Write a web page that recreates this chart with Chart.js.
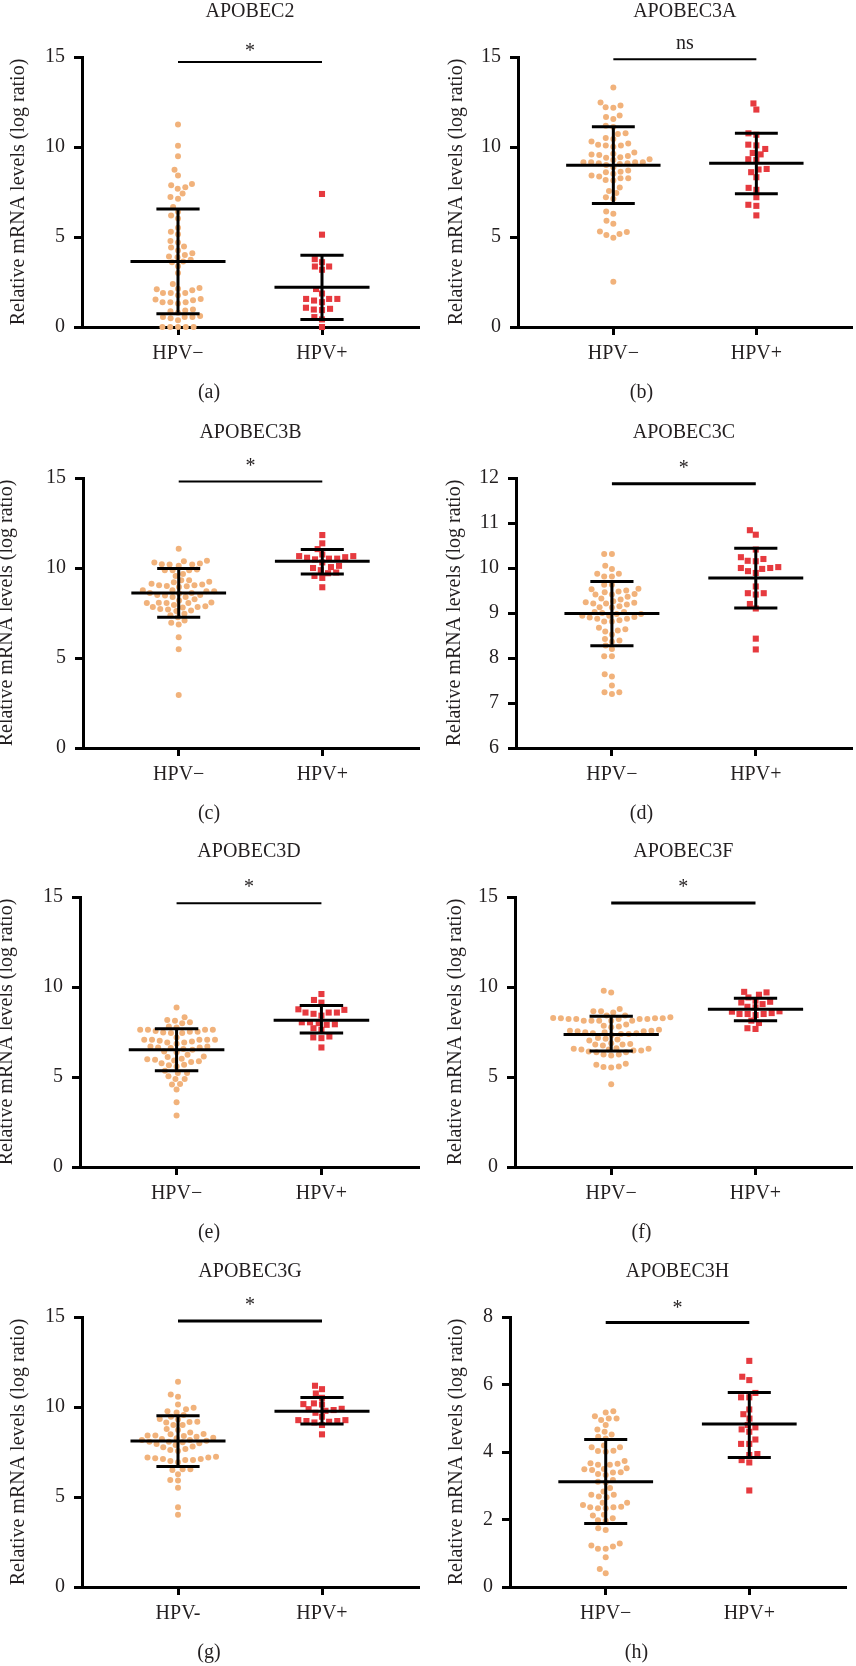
<!DOCTYPE html>
<html><head><meta charset="utf-8">
<script src="https://cdn.jsdelivr.net/npm/chart.js@4.4.1/dist/chart.umd.min.js"></script>
<style>
html,body{margin:0;padding:0;background:#fff;overflow:hidden;width:856px;height:1666px;}
#wrap{position:relative;width:856px;height:1666px;overflow:hidden;}
canvas{position:absolute;}
</style></head><body><div id="wrap"></div>
<script>
// ---------------- DATA ----------------
const panelTitles = ['APOBEC2','APOBEC3A','APOBEC3B','APOBEC3C','APOBEC3D','APOBEC3F','APOBEC3G','APOBEC3H'];
const panelLetters = ['(a)','(b)','(c)','(d)','(e)','(f)','(g)','(h)'];
const groupLabels = [
  ['HPV\u2212','HPV+'],['HPV\u2212','HPV+'],['HPV\u2212','HPV+'],['HPV\u2212','HPV+'],
  ['HPV\u2212','HPV+'],['HPV\u2212','HPV+'],['HPV-','HPV+'],['HPV\u2212','HPV+']
];
const sigLabels = ['*','ns','*','*','*','*','*','*'];
const sigLevels = [14.72, 14.87, 14.81, 11.87, 14.65, 14.67, 14.78, 7.84];
const yMins  = [0, 0, 0, 6, 0, 0, 0, 0];
const yMaxs  = [15, 15, 15, 12, 15, 15, 15, 8];
const ySteps = [5, 5, 5, 1, 5, 5, 5, 2];
const yAxisTitle = 'Relative mRNA levels (log ratio)';

// mean +/- SD: [low, mean, high]
const negStats = [[0.74,3.64,6.56],[6.86,8.99,11.13],[7.27,8.61,9.97],[8.27,8.99,9.70],[5.35,6.51,7.68],[6.44,7.36,8.37],[6.69,8.11,9.51],[1.88,3.12,4.37]];
const posStats = [[0.42,2.21,3.99],[7.40,9.10,10.76],[9.67,10.38,11.03],[9.11,9.78,10.44],[7.44,8.15,8.97],[8.13,8.76,9.38],[9.05,9.77,10.53],[3.84,4.83,5.76]];

const apobec2Neg = [11.25,10.07,9.49,8.73,8.42,7.94,7.87,7.76,7.68,7.41,7.22,7.13,6.67,6.40,6.19,6.03,5.51,5.29,5.15,4.78,4.69,4.47,4.41,4.25,4.10,4.00,3.92,3.88,3.73,3.64,3.60,3.38,3.00,2.39,2.17,2.13,2.10,2.04,1.89,1.89,1.89,1.76,1.56,1.53,1.49,1.38,1.38,1.38,1.31,0.97,0.92,0.88,0.79,0.61,0.55,0.55,0.55,0.48,0.37,0,0,0,0,0];
const apobec2Pos = [7.39,5.13,3.77,3.60,3.36,3.36,3.18,2.11,1.86,1.56,1.56,1.56,1.47,1.38,1.07,1.01,0.97,0.94,0.55,0.42,0];
const apobec3ANeg = [13.30,12.47,12.31,12.21,12.18,11.75,11.66,11.55,11.18,11.11,10.76,10.72,10.50,10.44,10.31,10.20,10.13,10.09,10.09,10.02,9.69,9.63,9.58,9.56,9.50,9.43,9.40,9.32,9.28,9.15,9.15,9.15,9.15,9.10,9.10,9.06,9.00,8.87,8.69,8.63,8.60,8.51,8.41,8.36,8.27,8.27,8.17,8.14,7.75,7.55,7.44,7.21,7.12,6.42,6.29,5.90,5.74,5.30,5.28,5.17,5.11,4.96,2.51];
const apobec3APos = [12.42,12.08,10.76,10.68,10.13,10.09,9.89,9.67,9.59,9.32,9.28,8.78,8.75,8.60,8.32,7.73,7.62,7.21,6.79,6.73,6.20];
const apobec3BNeg = [11.07,10.40,10.38,10.31,10.25,10.21,10.20,10.20,10.12,9.92,9.88,9.88,9.88,9.67,9.56,9.32,9.32,9.23,9.21,9.13,9.08,9.04,9.04,9.00,8.99,8.95,8.76,8.76,8.71,8.71,8.61,8.61,8.58,8.50,8.50,8.47,8.39,8.39,8.26,8.20,8.09,8.07,8.05,8.05,8.05,7.94,7.87,7.83,7.83,7.81,7.72,7.70,7.64,7.61,7.46,7.37,7.27,7.09,6.96,6.86,6.15,5.49,2.95];
const apobec3BPos = [11.83,11.37,11.05,10.75,10.66,10.66,10.60,10.57,10.52,10.52,10.48,10.31,10.12,10.05,10.00,9.88,9.75,9.71,9.56,9.45,8.93];
const apobec3CNeg = [10.31,10.31,10.05,9.98,9.87,9.87,9.81,9.81,9.63,9.63,9.54,9.53,9.50,9.48,9.46,9.42,9.41,9.41,9.36,9.32,9.30,9.26,9.24,9.23,9.21,9.21,9.19,9.15,9.13,9.12,9.02,9.02,9.00,8.98,8.98,8.94,8.94,8.91,8.90,8.87,8.87,8.84,8.81,8.81,8.67,8.64,8.61,8.59,8.52,8.42,8.39,8.36,8.28,8.20,8.04,8.04,7.64,7.59,7.39,7.24,7.24,7.20];
const apobec3CPos = [10.84,10.74,10.41,10.24,10.20,10.16,10.15,10.02,10.00,10.00,9.98,9.93,9.89,9.59,9.44,9.44,9.41,9.20,9.10,8.43,8.19];
const apobec3DNeg = [8.86,8.32,8.17,8.12,8.04,7.99,7.80,7.75,7.62,7.56,7.62,7.62,7.51,7.44,7.62,7.44,7.47,7.51,7.20,7.07,7.07,7.01,6.92,6.85,7.07,6.92,6.97,7.07,7.07,6.70,6.64,6.61,6.51,6.38,6.42,6.55,6.64,6.70,6.14,6.01,5.96,5.87,5.92,5.98,6.11,6.24,5.68,5.59,5.83,5.65,5.77,5.22,5.22,5.35,4.89,4.89,5.04,4.61,4.58,4.30,3.60,2.86];
const apobec3DPos = [9.61,9.28,9.13,8.73,8.58,8.51,8.41,8.58,8.58,8.76,8.04,7.93,7.90,7.99,8.04,7.71,7.62,7.25,7.20,7.16,6.64];
const apobec3FNeg = [9.79,9.70,8.78,8.65,8.65,8.59,8.41,8.32,8.26,8.26,8.22,8.22,8.26,8.28,8.41,8.22,8.13,8.13,8.13,8.13,8.13,8.22,8.22,7.91,7.80,7.76,7.85,7.63,7.57,7.54,7.49,7.43,7.39,7.34,7.39,7.43,7.49,7.54,7.57,7.12,7.08,7.03,7.17,6.88,6.81,6.75,6.81,6.84,6.57,6.53,6.47,6.42,6.38,6.38,6.47,6.53,6.57,6.60,6.25,6.20,6.25,5.68,5.55,5.53,5.59,5.74,4.60];
const apobec3FPos = [9.73,9.70,9.57,9.42,9.24,9.14,9.18,9.05,8.87,8.90,8.63,8.50,8.50,8.44,8.50,8.55,8.65,8.13,8.00,7.67,7.71];
const apobec3GNeg = [11.40,10.70,10.57,10.14,9.96,9.88,9.70,9.77,9.46,9.33,9.18,9.14,9.16,9.31,9.55,9.00,9.00,8.72,8.59,8.78,8.48,8.41,8.41,8.35,8.26,8.17,8.07,8.07,8.17,8.22,8.29,8.39,8.50,8.12,8.04,7.94,7.76,7.61,7.56,7.67,7.80,7.89,7.98,7.24,7.20,7.11,7.06,7.00,6.93,7.06,7.11,7.15,7.20,6.54,6.50,6.54,6.26,5.91,5.95,5.52,4.43,4.01];
const apobec3GPos = [11.18,10.99,10.75,10.51,10.16,10.20,10.14,9.88,9.83,9.79,9.68,9.46,9.90,9.27,9.22,9.14,9.18,9.22,9.27,9.00,8.48];
const apobec3HNeg = [5.21,5.17,5.06,4.99,4.99,4.95,4.80,4.67,4.60,4.52,4.45,4.40,4.19,4.14,4.03,4.01,4.04,4.14,3.73,3.67,3.62,3.62,3.65,3.52,3.49,3.47,3.50,3.40,3.35,3.32,3.39,3.17,3.10,3.12,2.93,2.83,2.73,2.66,2.68,2.73,2.50,2.43,2.36,2.33,2.33,2.36,2.38,2.50,2.14,2.04,1.98,1.96,2.12,1.74,1.69,1.29,1.20,1.13,1.13,1.23,0.88,0.53,0.41];
const apobec3HPos = [6.70,6.13,6.23,5.75,5.62,5.62,5.26,5.12,4.99,4.73,4.80,4.67,4.60,4.37,4.24,4.24,3.94,3.91,3.76,3.69,2.86];

const negSeries = [apobec2Neg, apobec3ANeg, apobec3BNeg, apobec3CNeg, apobec3DNeg, apobec3FNeg, apobec3GNeg, apobec3HNeg];
const posSeries = [apobec2Pos, apobec3APos, apobec3BPos, apobec3CPos, apobec3DPos, apobec3FPos, apobec3GPos, apobec3HPos];

// ---------------- LAYOUT / STYLE ----------------
const FONT = "'Liberation Serif','Times New Roman',serif";
const TXT = '#231f20';
const CW = 428, CH = 420;
const rowTops = [0, 421, 840, 1260];
const areaLeft  = [82, 90, 83, 88, 80, 87, 82, 82];
const areaRight = [418, 427, 418, 427, 418, 427, 418, 417];
const yTitleCenter = [19, 29, 7, 27, 7, 28, 19, 29];
const sigLineWidth = [2, 2, 2, 3, 2, 3, 3, 3];
const sigGap = [15, 15, 19, 20, 20, 20, 20, 18];
const X_MIN = 1/3, X_MAX = 8/3;
const AREA_TOP = 57, AREA_BOTTOM = 327;
const NEG_COLOR = '#F1B27B', POS_COLOR = '#E63A3F';
const SWARM_K = 1.25; // vertical weighting of collision distance

function swarm(values, pxPerX, pxPerY, diam) {
  const order = values.map((v, i) => i).sort((a, b) => values[a] - values[b]);
  const placed = [];
  const offs = new Array(values.length).fill(0);
  for (const i of order) {
    const yp = values[i] * pxPerY;
    const iv = [];
    for (const q of placed) {
      const dy = Math.abs(q.y - yp) * SWARM_K;
      if (dy < diam) { const dx = Math.sqrt(diam * diam - dy * dy); iv.push([q.x - dx, q.x + dx]); }
    }
    const cands = [0];
    iv.forEach(([a, b]) => cands.push(a, b));
    cands.sort((a, b) => Math.abs(a) - Math.abs(b));
    let xp = 0;
    for (const c of cands) {
      if (iv.every(([a, b]) => c <= a + 1e-6 || c >= b - 1e-6)) { xp = c; break; }
    }
    placed.push({x: xp, y: yp});
    offs[i] = xp / pxPerX;
  }
  return offs;
}

function seg(x1, y1, x2, y2, w) {
  return {type: 'line', data: [{x: x1, y: y1}, {x: x2, y: y2}], borderColor: '#000', borderWidth: w,
          pointRadius: 0, showLine: true, fill: false, order: 0, clip: false, tension: 0};
}
function errorBars(c, st) {
  const [lo, m, hi] = st;
  return [seg(c - 0.33, m, c + 0.33, m, 3), seg(c, lo, c, hi, 3),
          seg(c - 0.15, hi, c + 0.15, hi, 3), seg(c - 0.15, lo, c + 0.15, lo, 3)];
}

const sigPlugin = {
  id: 'sig',
  afterDatasetsDraw(chart, args, opts) {
    const {ctx, scales: {x, y}} = chart;
    const px = (x.getPixelForValue(1) + x.getPixelForValue(2)) / 2;
    const py = y.getPixelForValue(opts.level) - opts.gap;
    ctx.save();
    ctx.font = '20px ' + FONT;
    ctx.fillStyle = TXT;
    ctx.textAlign = 'center';
    ctx.textBaseline = 'alphabetic';
    const m = ctx.measureText(opts.text);
    ctx.fillText(opts.text, px, py + (m.actualBoundingBoxAscent - m.actualBoundingBoxDescent) / 2);
    ctx.restore();
  }
};

const wrap = document.getElementById('wrap');
panelTitles.forEach((title, i) => {
  const canvas = document.createElement('canvas');
  canvas.width = CW; canvas.height = CH;
  canvas.style.left = (i % 2) * 428 + 'px';
  canvas.style.top = rowTops[Math.floor(i / 2)] + 'px';
  canvas.style.width = CW + 'px'; canvas.style.height = CH + 'px';
  wrap.appendChild(canvas);

  const pxPerX = (areaRight[i] - areaLeft[i]) / (X_MAX - X_MIN);
  const pxPerY = (AREA_BOTTOM - AREA_TOP) / (yMaxs[i] - yMins[i]);
  const negOff = swarm(negSeries[i], pxPerX, pxPerY, 7.8);
  const posOff = swarm(posSeries[i], pxPerX, pxPerY, 8.2);
  const negPts = negSeries[i].map((v, k) => ({x: 1 + negOff[k], y: v}));
  const posPts = posSeries[i].map((v, k) => ({x: 2 + posOff[k], y: v}));

  const datasets = [
    ...errorBars(1, negStats[i]),
    ...errorBars(2, posStats[i]),
    seg(1, sigLevels[i], 2, sigLevels[i], sigLineWidth[i]),
    {type: 'scatter', label: groupLabels[i][0], data: negPts, pointStyle: 'circle', pointRadius: 3,
     backgroundColor: NEG_COLOR, borderWidth: 0, pointBorderWidth: 0, order: 1, clip: false},
    {type: 'scatter', label: groupLabels[i][1], data: posPts, pointStyle: 'rect', pointRadius: 4.3,
     backgroundColor: POS_COLOR, borderWidth: 0, pointBorderWidth: 0, order: 1, clip: false}
  ];

  const yTicks = [];
  for (let v = yMins[i]; v <= yMaxs[i] + 1e-9; v += ySteps[i]) yTicks.push({value: v});

  new Chart(canvas, {
    type: 'scatter',
    data: {datasets},
    plugins: [sigPlugin],
    options: {
      responsive: false, animation: false, devicePixelRatio: 1,
      events: [],
      layout: {padding: {left: 0, right: CW - areaRight[i], top: 0, bottom: 0}},
      plugins: {
        legend: {display: false}, tooltip: {enabled: false},
        title: {display: true, text: title, color: TXT, fullSize: false,
                font: {family: FONT, size: 20, weight: 'normal'}, padding: {top: 0, bottom: 33}},
        subtitle: {display: true, position: 'bottom', text: panelLetters[i], color: TXT, fullSize: true,
                   font: {family: FONT, size: 20, weight: 'normal'}, padding: {top: 4, bottom: 15}},
        sig: {text: sigLabels[i], level: sigLevels[i], gap: sigGap[i]}
      },
      scales: {
        x: {
          type: 'linear', min: X_MIN, max: X_MAX,
          afterBuildTicks: s => { s.ticks = [{value: 1}, {value: 2}]; },
          afterFit: s => { s.height = 50; },
          ticks: {callback: v => groupLabels[i][Math.round(v) - 1], color: TXT, padding: 7,
                  autoSkip: false, maxRotation: 0, font: {family: FONT, size: 20}},
          grid: {display: true, drawOnChartArea: false, drawTicks: true, tickLength: 8, lineWidth: 3, color: '#000'},
          border: {display: true, width: 3, color: '#000'}
        },
        y: {
          type: 'linear', min: yMins[i], max: yMaxs[i],
          afterBuildTicks: s => { s.ticks = yTicks.map(t => ({value: t.value})); },
          afterFit: s => { s.width = areaLeft[i]; },
          ticks: {color: TXT, padding: 9, font: {family: FONT, size: 20}},
          grid: {display: true, drawOnChartArea: false, drawTicks: true, tickLength: 8, lineWidth: 3, color: '#000'},
          border: {display: true, width: 3, color: '#000'},
          title: {display: true, text: yAxisTitle, color: TXT, font: {family: FONT, size: 20},
                  padding: {top: yTitleCenter[i] - 12, bottom: 0}}
        }
      }
    }
  });
});
</script>
</body></html>
